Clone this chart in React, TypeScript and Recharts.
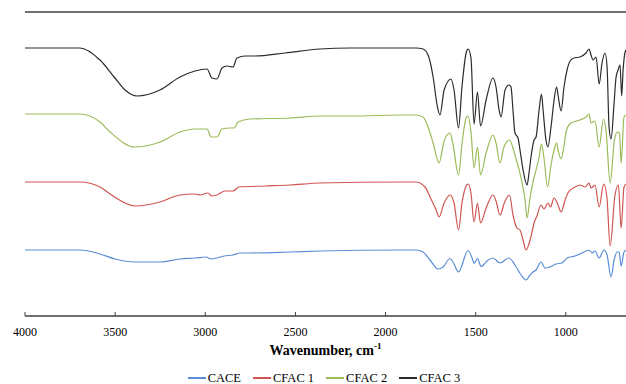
import React from 'react';
import { LineChart, Line, XAxis, YAxis, ReferenceLine, Legend } from 'recharts';

const SERIF = '"Liberation Serif", "Times New Roman", serif';
const AXIS_COLOR = '#404040';

const wavenumberTicks = [4000, 3500, 3000, 2500, 2000, 1500, 1000];
const seriesNames = ['CACE', 'CFAC 1', 'CFAC 2', 'CFAC 3'];
const seriesColors = ['#5B8ED6', '#CF5552', '#9BBB59', '#2B2B2B'];

// [wavenumber (cm-1), transmittance (arbitrary, offset units)]
const cace: [number, number][] = [
  [4000, 66], [3695, 66], [3584, 62], [3501, 57], [3390, 54], [3251, 54], [3140, 57], [3057, 58],
  [2996, 59], [2968, 57], [2935, 58], [2896, 60], [2846, 61], [2807, 63], [2752, 63], [2530, 64],
  [2363, 65], [1920, 66], [1831, 66], [1792, 64], [1753, 56], [1709, 47], [1681, 49], [1642, 57.5],
  [1626, 54], [1595, 44], [1542, 65.5], [1520, 58], [1509, 52.5], [1490, 57.5], [1470, 49.5],
  [1437, 55], [1404, 58], [1365, 53], [1315, 58], [1282, 51], [1248, 41], [1221, 36], [1198, 41],
  [1182, 44], [1165, 46], [1138, 54], [1115, 48], [1088, 49], [1054, 52], [1021, 53], [993, 58],
  [949, 60], [910, 63], [888, 65], [871, 66], [854, 63], [838, 65], [815, 58], [788, 66], [771, 61],
  [749, 39], [732, 56], [715, 64], [704, 64], [693, 50], [677, 64], [666, 66],
];

const cfac1: [number, number][] = [
  [4000, 134], [3695, 134], [3584, 129], [3528, 122], [3390, 110], [3251, 114], [3140, 121],
  [3057, 122], [3029, 121], [2985, 123], [2963, 120], [2935, 121], [2890, 125], [2846, 125],
  [2813, 129], [2668, 130], [2530, 131], [2363, 133], [1920, 134], [1831, 134], [1781, 129],
  [1753, 119], [1719, 106], [1703, 99], [1675, 113], [1642, 121], [1620, 113], [1595, 86],
  [1576, 113], [1553, 130], [1542, 132], [1526, 123], [1509, 94], [1490, 113], [1473, 93],
  [1442, 108], [1404, 121], [1387, 115], [1365, 101], [1337, 115], [1312, 121], [1293, 101],
  [1271, 88], [1254, 86], [1237, 76], [1221, 66], [1195, 78], [1176, 93], [1160, 100], [1138, 111],
  [1121, 107], [1099, 113], [1085, 109], [1065, 118], [1043, 111], [1026, 104], [1004, 116],
  [985, 124], [949, 129], [921, 131], [893, 129], [871, 133], [860, 128], [838, 131], [815, 109],
  [790, 132], [772, 119], [754, 70], [727, 121], [708, 131], [693, 88], [677, 129], [666, 132],
];

const cfac2: [number, number][] = [
  [4000, 202], [3695, 202], [3584, 194], [3528, 184], [3390, 169], [3251, 174], [3140, 184],
  [3057, 187], [2990, 187], [2968, 179], [2935, 179], [2907, 187], [2863, 188], [2840, 188],
  [2818, 194], [2752, 197], [2530, 198], [2363, 200], [2197, 200], [1920, 201], [1831, 201],
  [1792, 199], [1764, 189], [1736, 173], [1703, 153], [1675, 175], [1642, 183], [1626, 172],
  [1595, 141], [1576, 172], [1553, 198], [1542, 200], [1526, 184], [1509, 148], [1490, 169],
  [1473, 141], [1442, 163], [1404, 181], [1387, 173], [1365, 153], [1343, 169], [1312, 176],
  [1293, 168], [1282, 161], [1248, 138], [1226, 116], [1215, 98], [1198, 119], [1182, 134],
  [1165, 146], [1148, 159], [1135, 172], [1121, 158], [1101, 129], [1082, 151], [1065, 166],
  [1051, 173], [1043, 166], [1026, 157], [1010, 170], [996, 186], [971, 193], [921, 196],
  [888, 199], [871, 202], [860, 193], [838, 195], [815, 169], [791, 197], [777, 186], [754, 133],
  [730, 176], [713, 184], [702, 183], [693, 153], [677, 199], [666, 201],
];

const cfac3: [number, number][] = [
  [4000, 268], [3695, 268], [3584, 256], [3501, 238], [3445, 226], [3379, 220], [3251, 226],
  [3140, 239], [3057, 245], [2990, 247], [2963, 238], [2935, 237], [2907, 248], [2879, 250],
  [2846, 249], [2824, 258], [2779, 260], [2724, 260], [2557, 263], [2363, 267], [2197, 268],
  [1920, 268], [1831, 268], [1792, 267], [1764, 261], [1736, 239], [1714, 211], [1698, 201],
  [1675, 226], [1637, 237], [1620, 226], [1595, 188], [1576, 229], [1553, 263], [1542, 267],
  [1526, 258], [1509, 192], [1490, 224], [1473, 190], [1442, 216], [1404, 238], [1387, 229],
  [1370, 206], [1359, 199], [1337, 226], [1315, 231], [1304, 229], [1293, 206], [1282, 183],
  [1265, 178], [1254, 166], [1237, 146], [1215, 131], [1204, 143], [1193, 159], [1176, 176],
  [1165, 179], [1148, 206], [1135, 222], [1126, 206], [1110, 176], [1099, 169], [1082, 189],
  [1065, 216], [1051, 229], [1043, 221], [1026, 205], [1010, 229], [993, 246], [976, 255],
  [954, 258], [921, 259], [888, 263], [871, 267], [860, 261], [849, 256], [832, 259], [815, 232],
  [799, 253], [782, 263], [771, 249], [760, 189], [749, 177], [732, 213], [721, 239], [710, 246],
  [699, 251], [690, 220], [682, 246], [671, 264], [666, 266],
];

const seriesData = [cace, cfac1, cfac2, cfac3];

const toRows = (pts: [number, number][]) => pts.map(([wn, t]) => ({ wn, t }));

const WnTick = (props: any) => {
  const { x, y, payload } = props;
  return (
    <g>
      <line x1={x} x2={x} y1={y} y2={y - 4} stroke={AXIS_COLOR} strokeWidth={1} />
      <text x={x} y={y + 20} textAnchor="middle" fontSize={12} fontFamily={SERIF} fill="#000">
        {payload.value}
      </text>
    </g>
  );
};

const XTitle = (props: any) => {
  const vb = props.viewBox || { x: 25, y: 316, width: 601 };
  const cx = vb.x + vb.width / 2;
  return (
    <text x={cx} y={vb.y + 39} textAnchor="middle" fontSize={14} fontWeight="bold" fontFamily={SERIF} fill="#000">
      <tspan>Wavenumber, cm</tspan>
      <tspan fontSize={9} dy={-6}>-1</tspan>
    </text>
  );
};

const YTitle = (props: any) => {
  const vb = props.viewBox || { x: 25, y: 12, width: 0, height: 304 };
  const bx = vb.x - 3.5;
  const cy = vb.y + vb.height / 2 - 1;
  return (
    <text
      x={bx}
      y={cy}
      transform={`rotate(-90, ${bx}, ${cy})`}
      textAnchor="middle"
      fontSize={14}
      fontWeight="bold"
      fontFamily={SERIF}
      fill="#000"
    >
      Transmittance, %
    </text>
  );
};

const LegendContent = () => (
  <div
    style={{
      display: 'flex',
      justifyContent: 'center',
      alignItems: 'center',
      fontFamily: SERIF,
      fontSize: 12.5,
      lineHeight: '18px',
      height: 18,
      color: '#000',
      whiteSpace: 'nowrap',
    }}
  >
    {seriesNames.map((n, i) => (
      <div key={n} style={{ display: 'flex', alignItems: 'center', marginLeft: i ? 12 : 0 }}>
        <span style={{ display: 'inline-block', width: 18, height: 2, background: seriesColors[i], marginRight: 2 }} />
        <span>{n}</span>
      </div>
    ))}
  </div>
);

export default function App() {
  return (
    <div style={{ position: 'absolute', left: 0, top: 0, width: 626, height: 384, background: '#fff' }}>
      <LineChart width={626} height={384} margin={{ top: 12, right: 0, bottom: 38, left: 25 }}>
        <XAxis
          type="number"
          dataKey="wn"
          domain={[666, 4000]}
          reversed
          allowDataOverflow
          ticks={wavenumberTicks}
          interval={0}
          height={30}
          tickSize={0}
          tickMargin={0}
          tickLine={false}
          axisLine={{ stroke: AXIS_COLOR, strokeWidth: 1.5 }}
          tick={<WnTick />}
          label={<XTitle />}
        />
        <YAxis
          type="number"
          domain={[0, 304]}
          allowDataOverflow
          width={0}
          tick={false}
          tickLine={false}
          axisLine={{ stroke: AXIS_COLOR, strokeWidth: 1.5 }}
          label={<YTitle />}
        />
        <ReferenceLine y={304} stroke={AXIS_COLOR} strokeWidth={1.5} />
        {seriesData.map((pts, i) => (
          <Line
            key={seriesNames[i]}
            name={seriesNames[i]}
            data={toRows(pts)}
            dataKey="t"
            type="monotone"
            dot={false}
            activeDot={false}
            stroke={seriesColors[i]}
            strokeWidth={1.2}
            isAnimationActive={false}
          />
        ))}
        <Legend
          layout="horizontal"
          verticalAlign="middle"
          align="center"
          content={<LegendContent />}
          wrapperStyle={{ position: 'absolute', left: 22, top: 369, width: 604, height: 18 }}
        />
      </LineChart>
    </div>
  );
}
